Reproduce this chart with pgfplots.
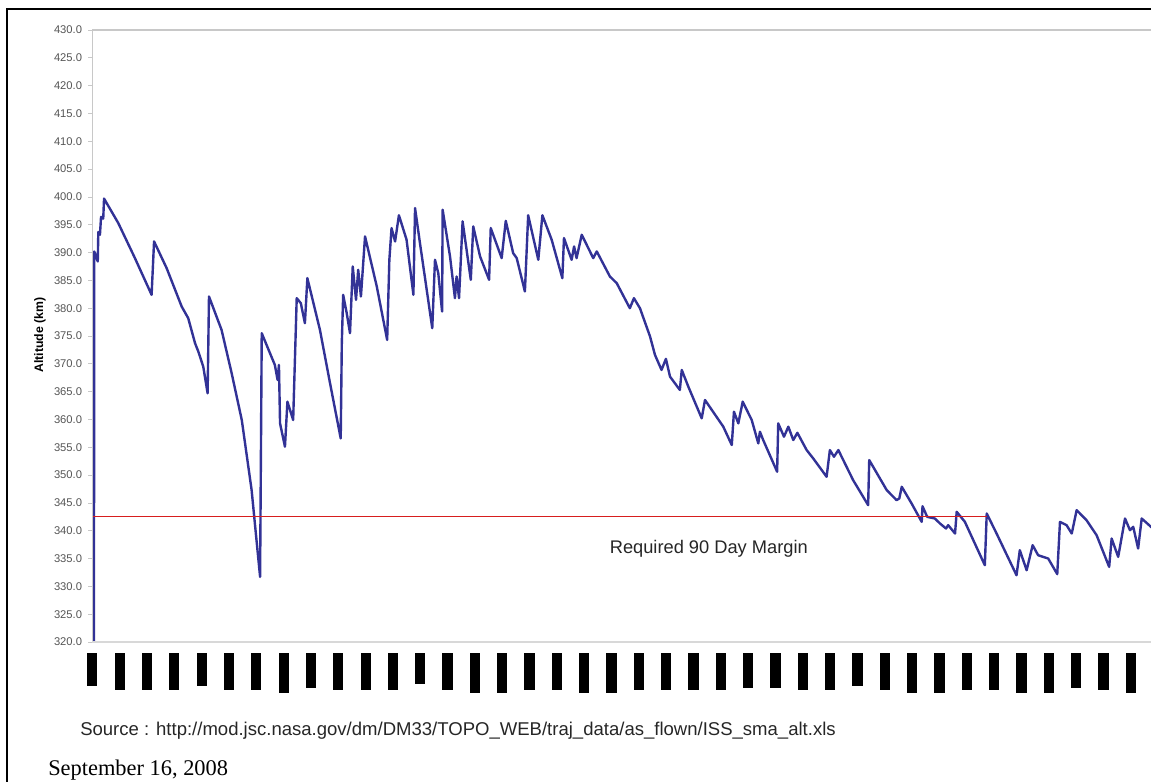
\documentclass[border=0pt]{standalone}
\usepackage{pgfplots}
\pgfplotsset{compat=1.18}
\usepackage{fontspec}
\setmainfont{Liberation Sans}
\newfontfamily\seriffont{Liberation Serif}
\definecolor{issblue}{RGB}{50,50,150}
\definecolor{marginred}{RGB}{215,30,30}
\definecolor{axgray}{RGB}{200,200,200}
\definecolor{lblgray}{RGB}{85,85,85}
\newcommand{\bN}{\rule{7.6pt}{27.5pt}}
\newcommand{\bL}{\rule{7.6pt}{30pt}}
\newcommand{\bS}{\rule{7.6pt}{24.75pt}}
\newcommand{\bM}{\rule{7.6pt}{26.25pt}}
\newcommand{\bX}{\rule{7.6pt}{23.25pt}}
\begin{document}
\begin{tikzpicture}
\useasboundingbox (0,0) rectangle ({1151*0.75pt},{-781*0.75pt});
\clip (0,0) rectangle ({1151*0.75pt},{-781*0.75pt});
\begin{axis}[
  name=ax,
  at={({92.3*0.75pt},{-642*0.75pt})}, anchor=south west,
  scale only axis, width=794pt, height=459pt,
  xmin=0, xmax=38.74, ymin=320, ymax=430,
  axis line style={draw=none},
  xtick={0,1,...,38},
  xticklabels={\bS,\bN,\bN,\bN,\bS,\bN,\bN,\bL,\bM,\bN,\bN,\bN,\bX,\bN,\bL,\bL,\bN,\bN,\bL,\bL,\bN,\bN,\bN,\bN,\bM,\bM,\bN,\bN,\bS,\bN,\bL,\bL,\bN,\bN,\bL,\bL,\bM,\bN,\bL},
  xtick style={draw=none},
  xticklabel style={anchor=north, inner sep=0pt, yshift=-5pt},
  ytick={320,325,...,430},
  ytick pos=left,
  tick align=outside,
  major tick length=3pt,
  ytick style={axgray, line width=0.6pt},
  yticklabel style={anchor=east, inner sep=0pt, xshift=-4.5pt, text=lblgray, font=\fontsize{8.4}{10}\selectfont},
  /pgf/number format/.cd, fixed, zerofill, precision=1, assume math mode=true,
]
\addplot[issblue, line width=1.8pt, line join=round] coordinates {
(0.06,315) (0.07,390.2) (0.20,388.4) (0.22,393.7) (0.28,393.2) (0.32,396.4) (0.40,396.1) (0.43,399.7)
(0.95,395.3) (1.56,389.0) (2.17,382.4) (2.26,392.0) (2.72,387.2) (3.27,380.3) (3.51,378.2) (3.76,373.7)
(3.88,372.2) (4.06,369.5) (4.22,364.7) (4.27,382.1) (4.73,376.1) (5.10,368.3) (5.47,359.9) (5.83,347.3)
(6.14,331.7) (6.20,375.5) (6.68,369.8) (6.78,367.1) (6.83,369.8) (6.87,359.3) (7.05,355.1) (7.14,363.2)
(7.35,359.9) (7.48,381.8) (7.63,380.9) (7.78,377.3) (7.87,385.4) (8.33,376.1) (8.70,366.5) (9.09,356.6)
(9.13,373.7) (9.18,382.4) (9.31,379.1) (9.43,375.5) (9.53,387.5) (9.65,381.5) (9.73,386.9) (9.83,382.1)
(9.98,392.9) (10.41,383.9) (10.79,374.3) (10.87,388.7) (10.95,394.4) (11.08,392.0) (11.22,396.7) (11.50,392.3)
(11.75,382.4) (11.81,398.0) (11.99,391.7) (12.44,376.4) (12.54,388.7) (12.66,386.3) (12.80,379.4) (12.82,397.7)
(13.09,389.3) (13.27,381.8) (13.33,385.7) (13.42,381.8) (13.55,395.6) (13.85,385.1) (13.94,394.7) (14.19,389.3)
(14.52,385.1) (14.58,394.4) (14.98,389.0) (15.13,395.7) (15.40,389.9) (15.53,389.0) (15.83,383.0) (15.95,396.7)
(16.32,388.7) (16.47,396.7) (16.81,392.3) (17.20,385.4) (17.26,392.6) (17.54,388.7) (17.63,391.1) (17.72,389.0)
(17.91,393.2) (18.33,389.0) (18.46,390.2) (18.94,385.7) (19.19,384.5) (19.67,380.0) (19.82,381.8) (20.04,380.0)
(20.41,374.9) (20.59,371.6) (20.83,368.9) (20.99,370.9) (21.14,367.7) (21.50,365.3) (21.57,368.9) (21.81,365.9)
(22.30,360.2) (22.42,363.5) (23.09,358.7) (23.40,355.4) (23.48,361.4) (23.64,359.3) (23.80,363.2) (24.13,359.9)
(24.37,355.7) (24.43,357.8) (24.55,356.3) (25.06,350.6) (25.10,359.3) (25.31,356.9) (25.47,358.7) (25.65,356.3)
(25.80,357.6) (26.14,354.5) (26.38,353.0) (26.87,349.7) (26.99,354.5) (27.14,353.3) (27.30,354.5) (27.60,351.5)
(27.84,349.1) (28.39,344.6) (28.43,352.7) (29.07,347.3) (29.43,345.5) (29.53,345.8) (29.62,347.9) (29.98,344.9)
(30.35,341.6) (30.38,344.4) (30.55,342.5) (30.83,342.2) (31.02,341.3) (31.24,340.4) (31.32,341.0) (31.57,339.5)
(31.63,343.4) (31.93,341.6) (32.66,333.8) (32.73,343.1) (33.09,339.5) (33.82,332.0) (33.94,336.5) (34.19,332.9)
(34.41,337.4) (34.61,335.6) (34.98,335.0) (35.31,332.2) (35.41,341.6) (35.65,341.0) (35.84,339.5) (36.02,343.7)
(36.38,341.9) (36.75,339.2) (37.21,333.5) (37.30,338.6) (37.54,335.3) (37.79,342.2) (37.97,340.1) (38.09,340.7)
(38.27,336.8) (38.40,342.2) (38.74,340.7) (38.95,339.8)
};
\addplot[marginred, line width=1pt] coordinates {(0,342.5) (32.73,342.5)};
\node[font=\fontsize{13.7}{16}\selectfont, text=black!85] at (axis cs:22.56,336.7) {Required 90 Day Margin};
\end{axis}
\draw[axgray, line width=0.8pt] (ax.south west) -- (ax.north west) -- (ax.north east);
\draw[axgray!70, line width=0.8pt] (ax.south west) -- (ax.south east);
\node[rotate=90, font=\bfseries\fontsize{9.2}{11}\selectfont] at ({40*0.75pt},{-335*0.75pt}) {Altitude (km)};
\node[anchor=west, inner sep=0pt, font=\fontsize{13.9}{16}\selectfont, text=black!85] at ({80*0.75pt},{-731*0.75pt}) {Source : http://mod.jsc.nasa.gov/dm/DM33/TOPO\_WEB/traj\_data/as\_flown/ISS\_sma\_alt.xls};
\node[anchor=west, inner sep=0pt, font=\seriffont\fontsize{16.8}{19}\selectfont] at ({48*0.75pt},{-770*0.75pt}) {September 16, 2008};
\draw[line width=1.6pt] ({7*0.75pt},{-800*0.75pt}) -- ({7*0.75pt},{-9*0.75pt}) -- ({1180*0.75pt},{-9*0.75pt});
\end{tikzpicture}
\end{document}
